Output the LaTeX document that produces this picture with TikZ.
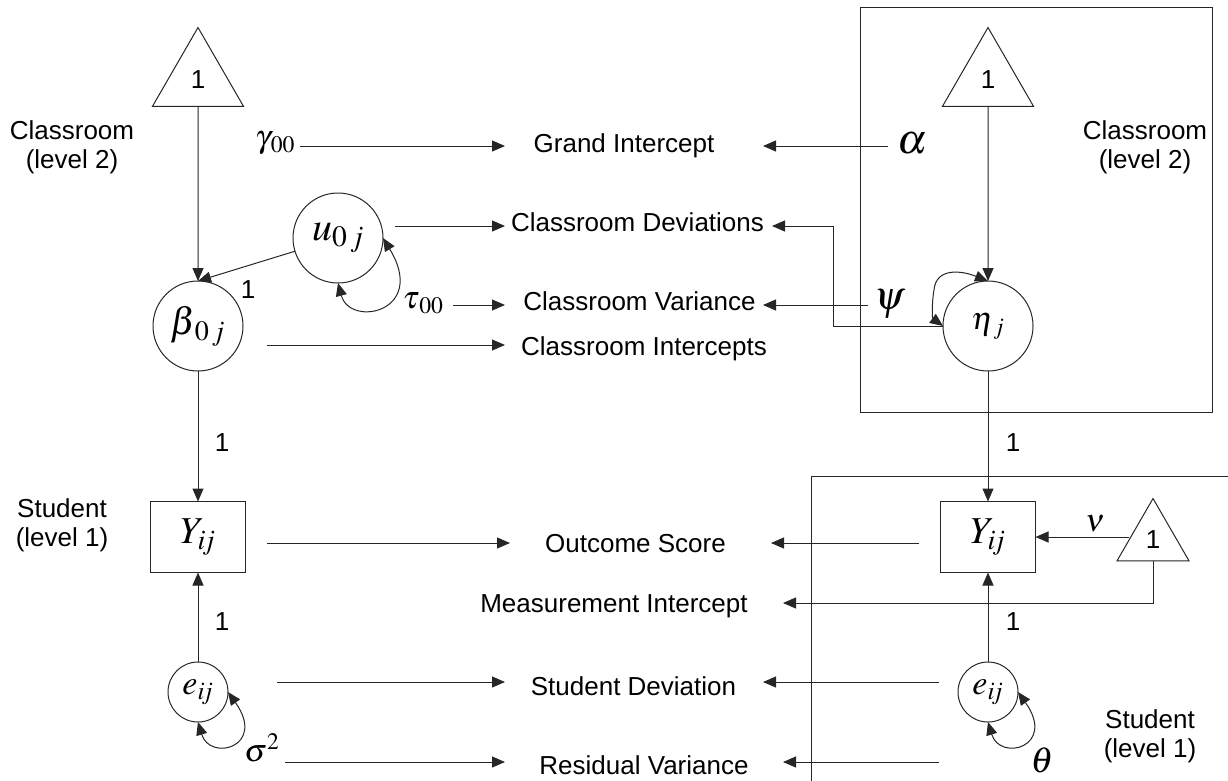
\documentclass[tikz,border=0pt]{standalone}
\usepackage{mathptmx}
\usepackage[no-math]{fontspec}
\setmainfont{Liberation Sans}
\usetikzlibrary{arrows.meta,shapes.geometric}
\begin{document}
\begin{tikzpicture}[x=1pt,y=-1pt,
  every node/.style={inner sep=0pt, outer sep=0pt},
  lbl/.style={font=\fontsize{26}{29}\selectfont, align=center},
  conn/.style={line width=1pt, draw=black!85},
  arr/.style={conn, -{Triangle[length=13pt,width=11pt]}},
  darr/.style={conn, {Triangle[length=13pt,width=11pt]}-{Triangle[length=13pt,width=11pt]}},
  lat/.style={circle, conn, minimum size=90pt},
  err/.style={circle, conn, minimum size=60pt},
  obs/.style={rectangle, conn, minimum width=95pt, minimum height=71pt},
  const/.style={regular polygon, regular polygon sides=3, conn, font=\fontsize{26}{29}\selectfont},
  fs/.style={font=\fontsize{#1}{#1}\selectfont}
]
\useasboundingbox (0,0) rectangle (1228,780);

% frames
\draw[conn] (860,7) rectangle (1212,412);
\draw[conn] (1229,476) -- (811,476) -- (811,781);

% level labels
\node[lbl] (cl2L) at (72,147) {Classroom\\(level 2)};
\node[lbl] (cl2R) at (1145,147) {Classroom\\(level 2)};
\node[lbl] (st1L) at (62,525) {Student\\(level 1)};
\node[lbl] (st1R) at (1150,736) {Student\\(level 1)};

% constants
\node[const, minimum size=105pt] (c2L) at (198,80) {1};
\node[const, minimum size=105pt] (c2R) at (988,80) {1};
\node[const, minimum size=83pt] (c1R) at (1153,540) {1};

% latent / observed
\node[lat, fs=38] (beta) at (198,326) {$\beta_{\,0\,j}$};
\node[lat, fs=40] (u) at (338,238) {$u_{0\,j}$};
\node[lat, fs=32] (eta) at (988,326) {$\eta_{\,j}$};
\node[obs, fs=38] (YL) at (198,537) {$Y_{i\mkern-2mu j}$};
\node[obs, fs=38] (YR) at (988,537) {$Y_{i\mkern-2mu j}$};
\node[err, fs=34] (eL) at (198,692) {$e_{i\mkern-2mu j}$};
\node[err, fs=34] (eR) at (988,692) {$e_{i\mkern-2mu j}$};

% parameter symbols
\node[fs=32] (g00) at (275,143) {$\gamma_{\,00}$};
\node[fs=42] (alpha) at (912,143) {$\alpha$};
\node[fs=32] (tau) at (423,303) {$\tau_{\,00}$};
\node[fs=40] (psi) at (890,304) {$\psi$};
\node[fs=32] (nu) at (1095,524) {$\nu$};
\node[fs=32] (sig) at (262,748) {$\sigma^{2}$};
\node[fs=36] (theta) at (1042,760) {$\theta$};

% ones
\node[lbl] (one1) at (248,290) {1};
\node[lbl] (one2) at (222,443) {1};
\node[lbl] (one3) at (222,622) {1};
\node[lbl] (one4) at (1013,443) {1};
\node[lbl] (one5) at (1013,622) {1};

% middle labels
\node[lbl, anchor=base] (tGI) at (624,152) {Grand Intercept};
\node[lbl, anchor=base] (tCD) at (637.5,231) {Classroom Deviations};
\node[lbl, anchor=base] (tCV) at (639.5,310) {Classroom Variance};
\node[lbl, anchor=base] (tCI) at (644,355) {Classroom Intercepts};
\node[lbl, anchor=base] (tOS) at (635.5,552) {Outcome Score};
\node[lbl, anchor=base] (tMI) at (614,612) {Measurement Intercept};
\node[lbl, anchor=base] (tSD) at (633.5,695) {Student Deviation};
\node[lbl, anchor=base] (tRV) at (644,774) {Residual Variance};

% arrow end coordinates
\coordinate (a1s) at (300,146); \coordinate (a1e) at (505,146);
\coordinate (a2s) at (395,226); \coordinate (a2e) at (505,226);
\coordinate (a3s) at (453,305); \coordinate (a3e) at (505,305);
\coordinate (a4s) at (267,345); \coordinate (a4e) at (505,345);
\coordinate (a5s) at (267,543); \coordinate (a5e) at (510,543);
\coordinate (a6s) at (277,682); \coordinate (a6e) at (505,682);
\coordinate (a7s) at (285,762); \coordinate (a7e) at (505,762);
\coordinate (b1s) at (888,146); \coordinate (b1e) at (763,146);
\coordinate (b2e) at (772,226);
\coordinate (b3s) at (868,305); \coordinate (b3e) at (763,305);
\coordinate (b5s) at (919,543); \coordinate (b5e) at (771,543);
\coordinate (b6e) at (783,603);
\coordinate (b7s) at (939,682); \coordinate (b7e) at (763,682);
\coordinate (b8s) at (939,762); \coordinate (b8e) at (783,762);

% left model paths
\draw[arr] (c2L.south) -- (beta.north);
\draw[arr] (u) -- (beta.north);
\draw[arr] (beta.south) -- (YL.north);
\draw[arr] (eL.north) -- (YL.south);
\draw[darr] (u.south) .. controls (350,328) and (428,312) .. (u.east);
\draw[darr] (eL.south) .. controls (210,762) and (267,747) .. (eL.east);

% right model paths
\draw[arr] (c2R.south) -- (eta.north);
\draw[arr] (eta.south) -- (YR.north);
\draw[arr] (eR.north) -- (YR.south);
\draw[arr] (c1R.west |- YR.east) -- (YR.east);
\draw[darr] (eta.west) .. controls (932,318) and (932,300) .. (934,290)
             .. controls (936,268) and (960,270) .. (eta.north);
\draw[darr] (eR.south) .. controls (1000,762) and (1057,747) .. (eR.east);

% left annotation arrows
\draw[arr] (a1s) -- (a1e);
\draw[arr] (a2s) -- (a2e);
\draw[arr] (a3s) -- (a3e);
\draw[arr] (a4s) -- (a4e);
\draw[arr] (a5s) -- (a5e);
\draw[arr] (a6s) -- (a6e);
\draw[arr] (a7s) -- (a7e);

% right annotation arrows
\draw[arr] (b1s) -- (b1e);
\draw[arr] (eta.west) -- ++(-110,0) |- (b2e);
\draw[arr] (b3s) -- (b3e);
\draw[arr] (b5s) -- (b5e);
\draw[arr] (c1R.south) |- (b6e);
\draw[arr] (b7s) -- (b7e);
\draw[arr] (b8s) -- (b8e);
\end{tikzpicture}
\end{document}
